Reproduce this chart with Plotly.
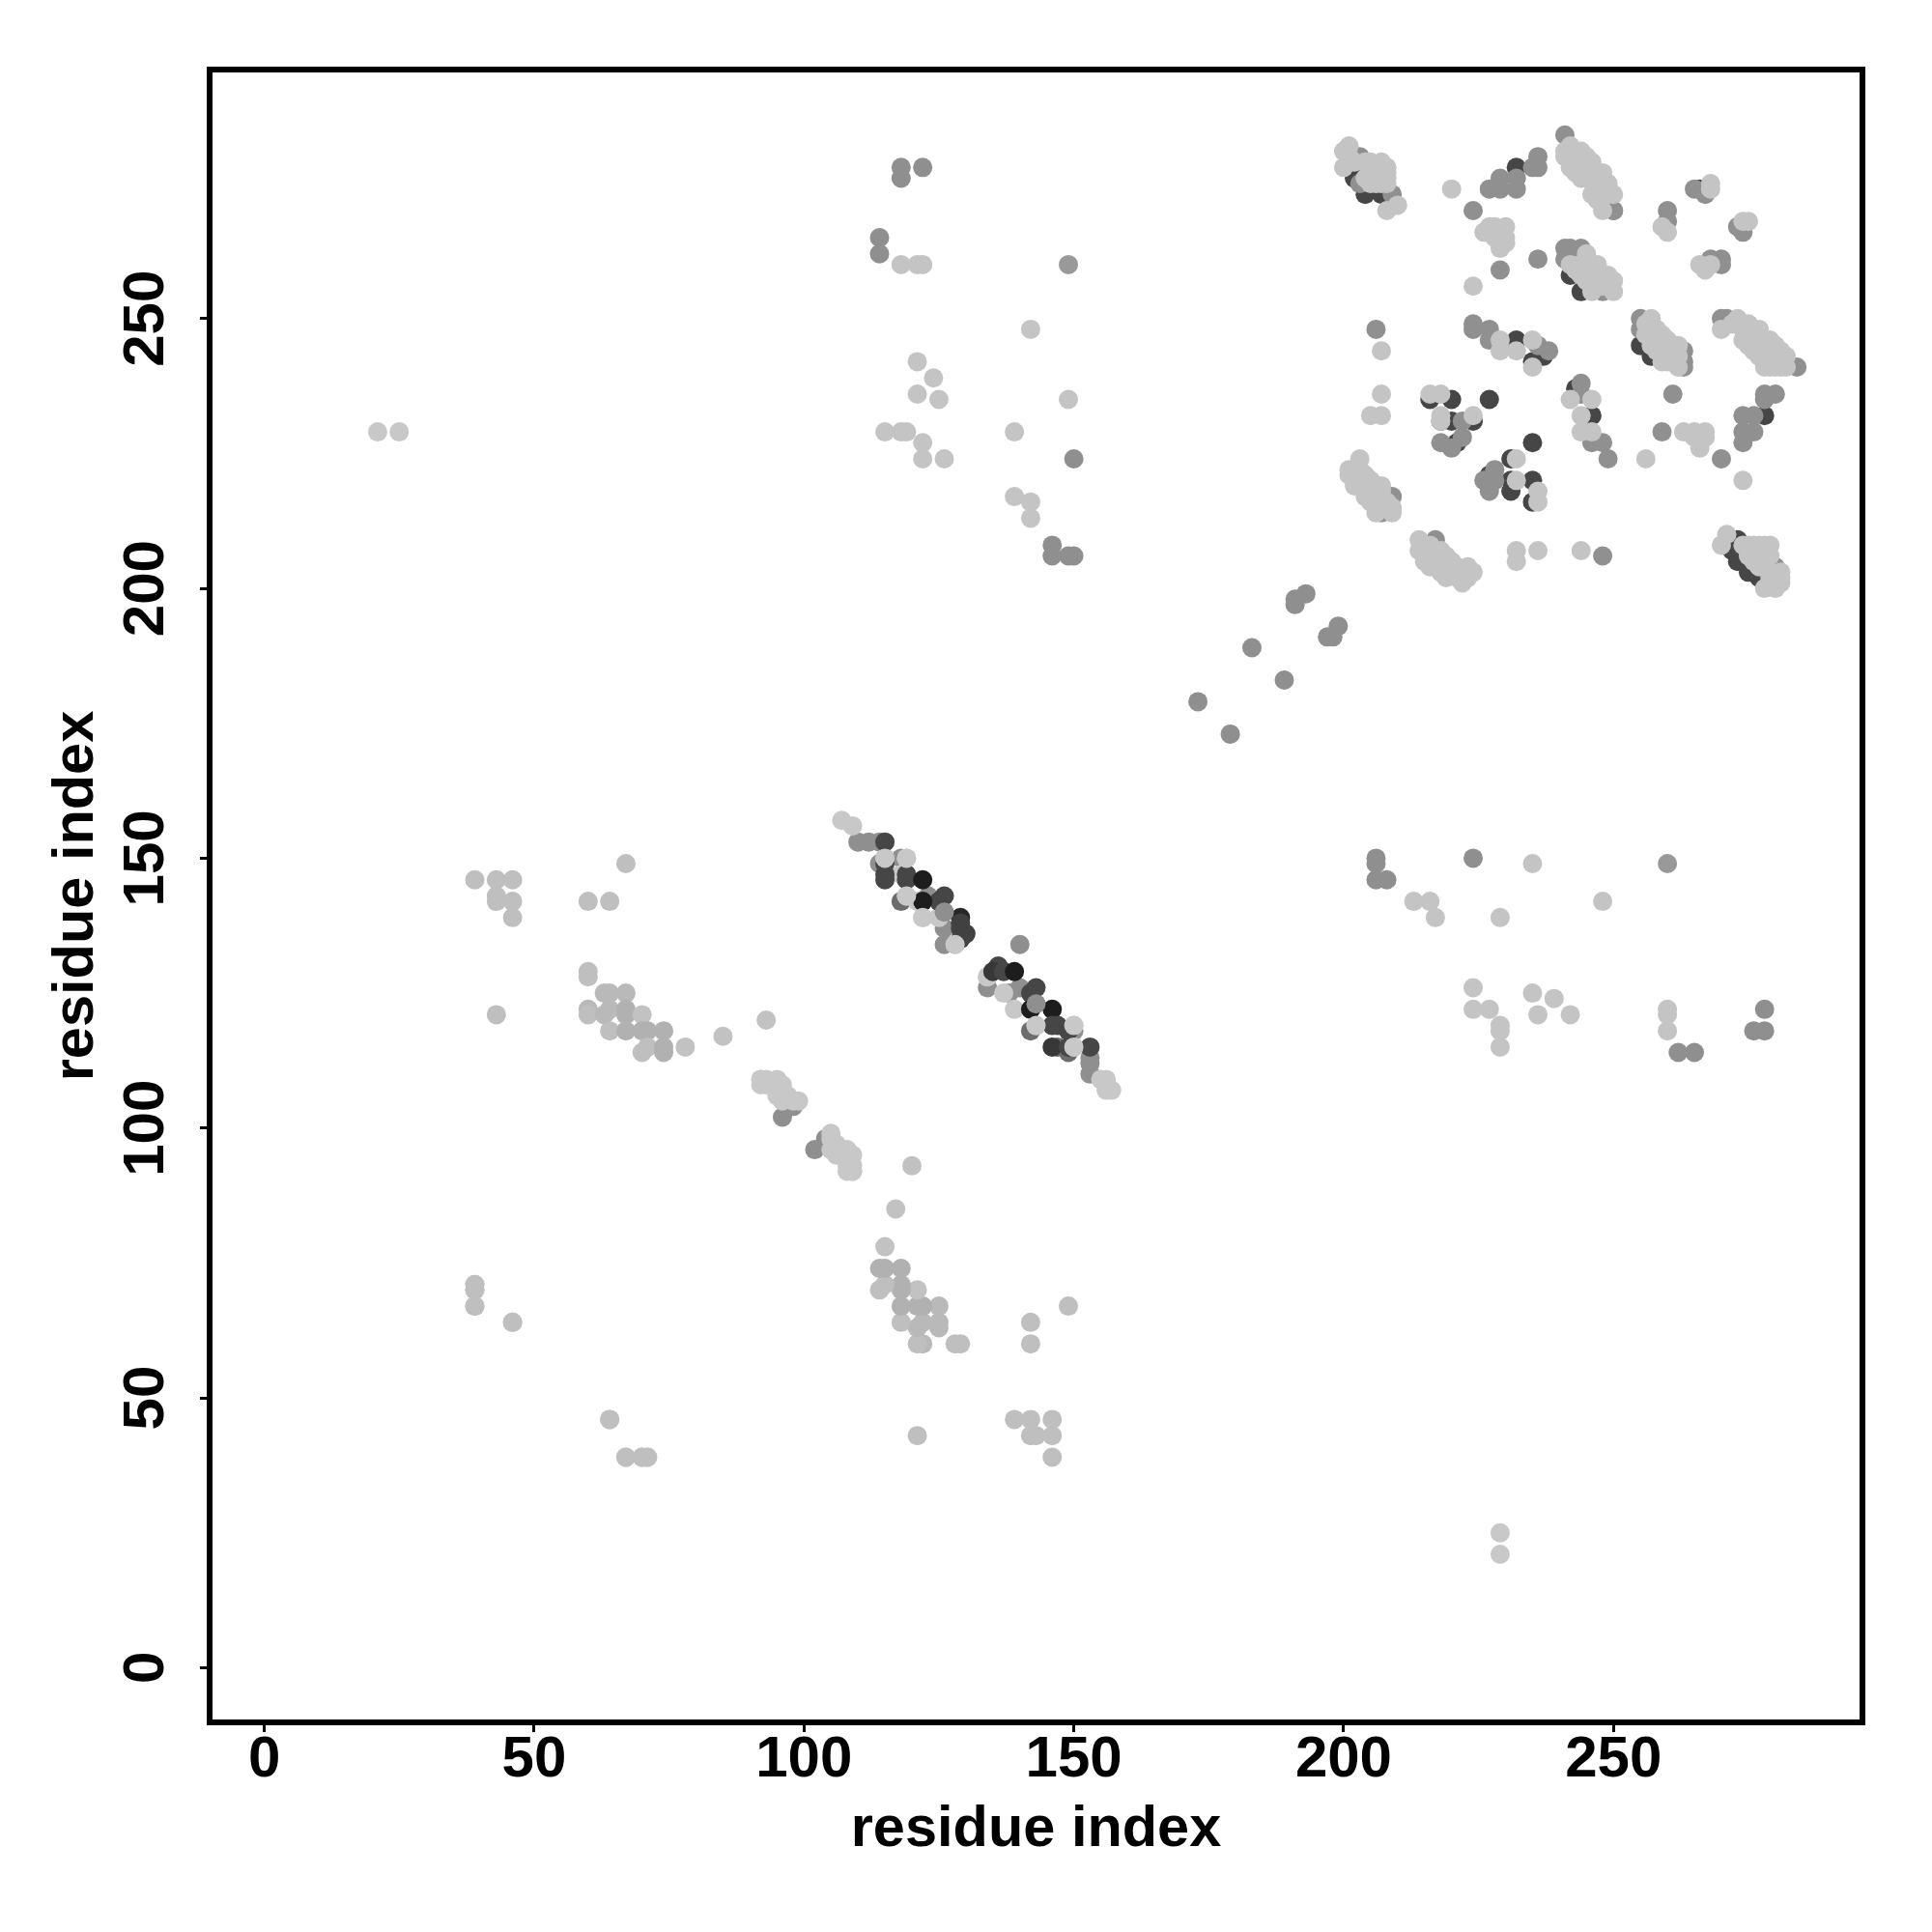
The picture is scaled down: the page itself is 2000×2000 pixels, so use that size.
import plotly.graph_objects as go

# Off-diagonal contacts: each (i, j) is also drawn as (j, i)
pale_i = [21,25,39,43,46,43,46,43,46,60,64,67,43,64,67,70,71,39,39,39,46,
          60,60,63,64,67,60,60,63,64,67,67,70,64,67,70,71,74,70,71,74,74,78,85,93]
pale_j = [229,229,146,146,146,142,142,143,139,142,142,149,121,46,39,39,39,71,70,67,64,
          129,128,125,125,125,122,121,121,122,122,121,121,118,118,118,118,118,114,115,115,114,115,117,120]
pale_score = [0.0,0.0,0.05,0.05,0.05,0.05,0.05,0.05,0.05,0.05,0.05,0.05,0.05,0.05,0.05,0.05,0.05,0.05,0.05,0.05,0.05,
              0.05,0.05,0.08,0.08,0.08,0.08,0.05,0.08,0.08,0.12,0.12,0.03,0.05,0.12,0.12,0.12,0.12,0.05,0.05,0.12,0.12,0.03,0.03,0.03]
cross_i = [96,97,98,118,118,122,114,114,149,150,146,146,149,150,92,92,93,93,95,96,95,97,96,98,99,95,92]
cross_j = [102,104,104,278,276,278,265,262,260,224,208,206,206,206,109,108,109,108,109,108,107,106,105,105,105,106,109]
cross_score = [.3,.3,.3,.3,.3,.3,.3,.3,.25,.3,.3,.3,.3,.3,0,0,0,0,0,0,0,0,0,0,0,0,0]
soft_i = [118,121,122,142,121,124,121,125,149,115,118,119,139,122,122,126,139,142,142]
soft_j = [260,260,260,248,242,239,236,235,235,229,229,229,229,227,224,224,217,216,213]

# Anti-diagonal band around residue 130, in drawing order
band_x = [110,112,114,114,118,118,123,126,126,126,134,140,134,138,140,143,142,150,149,147,153,153,153,
          107,109,115,119,118,119,121,122,125,128,134,137,139,143,150,150,155,156,156,157,
          115,115,115,115,119,119,125,126,122,122,129,129,129,130,129,136,135,137,139,142,143,142,146,146,147,149,146,149,153,
          115,119,119,122,128,143,150,150,143,126]
band_y = [153,153,153,149,150,142,143,140,137,134,126,134,128,125,126,123,118,118,114,115,113,112,110,
          157,156,150,150,147,143,142,139,139,134,128,125,122,119,119,115,109,109,107,107,
          153,149,147,146,147,146,142,143,146,142,139,138,137,136,135,130,129,129,129,125,126,122,122,119,119,118,115,115,115,
          150,150,143,139,134,119,119,115,123,140]
band_score = [.3,.3,.3,.3,.3,.5,.3,.3,.3,.3,.3,.3,0,.3,.3,.3,.5,.3,.5,.5,.3,.3,.3,
              0,0,0,0,0,0,0,0,0,0,0,0,0,0,0,0,0,0,0,0,
              .72,.72,.72,.72,.72,.72,.72,.72,.95,.95,.9,.75,.75,.75,.75,.72,.8,.72,.95,.72,.72,.95,.95,.72,.72,.72,.8,.72,.72,
              0,0,0,0,0,0,0,0,.3,.3]

# Residues 173-199
strand_x = [173,179,183,189,191,191,193,197,198,199]
strand_y = [179,173,189,183,198,197,199,191,191,193]

# Upper-right domain, by intensity
dark_x = [206,201,202,204,207,216,220,218,220,224,221,227,235,231,227,231,231,235,235,232,237,235,243,243,246,
          278,255,257,273,272,273,275,277,279,232,242,244,266,274]
dark_y = [278,278,276,273,273,235,235,231,231,231,227,235,227,224,221,220,218,220,216,246,243,242,237,236,232,
          232,245,243,209,207,205,203,202,201,278,258,255,274,267]
mid_x = [206,224,224,227,227,236,238,244,244,248,249,248,222,218,220,222,228,226,227,228,246,
         259,261,270,278,280,278,274,276,274,276,274,255,255,263,263,263,270,271,284,280,
         203,203,209,224,227,229,229,232,232,235,236,236,241,250,250,229,236,241,242,244,241,248,
         260,260,265,267,273,274,268,270,270,207,209,217]
mid_y = [248,249,248,248,246,245,244,238,236,227,224,206,231,227,226,228,222,220,218,220,227,
         229,236,224,236,236,235,232,232,229,229,227,250,248,244,242,241,250,250,241,204,
         280,275,273,270,274,276,274,276,274,278,280,278,284,270,270,259,261,263,263,263,261,255,
         270,268,274,273,267,266,261,261,260,214,217,209]
light_x = [207,207,205,207,216,218,218,218,224,242,246,244,244,246,229,229,232,235,235,232,232,236,236,
           256,263,265,267,266,265,267,274,220,203,201,201,202,203,205,207,204,206,209,207,206,206,209,
           214,214,216,218,216,220,219,222,224,222,221,218,215,232,232,236,244,271,270,275,279,277,276,278,278,281,281,280,
           257,257,259,261,259,262,270,273,275,277,279,281,282,274,276,278,280,276,279,
           200,201,200,205,208,208,204,206,206,208,208,210,242,241,241,244,246,248,249,250,248,242,244,247,243,245,
           226,228,230,228,230,229,230,227,224,245,247,248,250,243,245,247,250,246,242,259,260,268,268,274,275,266,267,268,
           242,243,244,245,246,245,246,247,248,248,249,247,246,244,243,
           244,246,247,249,249,246,248,244,
           256,256,257,258,258,259,260,260,261,262,258,260,262,
           272,274,275,276,277,278,279,280,281,278,280,282,275,277,279,281,
           202,202,204,203,205,206,207,208,208,205,204,
           215,215,217,217,219,219,220,221,223,223,218,216,
           276,278,275,277,279,277,279,276,274,281,279,
           201,202,204,205,206,207,205,207,208,207]
light_y = [244,236,232,232,236,236,232,231,232,235,235,232,229,229,246,244,244,246,241,224,220,218,216,
           224,229,229,229,226,228,228,220,274,224,222,221,219,222,220,219,217,214,215,218,219,216,214,
           209,207,208,207,204,205,202,201,203,202,204,205,206,207,205,207,207,210,208,208,208,208,205,204,200,201,202,200,
           250,247,245,244,242,241,248,250,249,248,246,244,241,246,244,241,241,245,243,
           281,282,278,279,278,276,276,278,275,275,270,271,282,281,280,281,279,277,275,273,270,278,276,274,279,277,
           266,267,267,265,265,263,264,267,256,262,260,258,257,259,257,256,255,255,260,267,266,275,274,268,268,260,259,260,
           280,281,279,280,278,276,276,276,275,273,273,272,273,278,277,
           260,259,258,256,258,257,256,258,
           249,247,245,246,248,247,246,244,242,243,244,242,245,
           249,248,247,247,246,245,244,243,242,243,245,243,245,243,241,241,
           222,220,221,220,218,217,216,216,215,216,219,
           208,205,206,204,204,206,203,202,202,204,203,206,
           207,208,206,206,206,204,203,208,208,203,202,
           280,279,279,277,276,277,275,275,277,279]

tick_values = [0, 50, 100, 150, 200, 250]
axis_title = "residue index"
pale_scale = [[0, "#c8c8c8"], [0.3, "#8f8f8f"], [0.72, "#464646"], [1, "#141414"]]
FONT = "Liberation Sans"
DOT = 20


def scored(x, y, score):
    return go.Scatter(x=x, y=y, mode="markers", hoverinfo="skip",
                      marker=dict(size=DOT, color=score, cmin=0, cmax=1,
                                  colorscale=pale_scale, line=dict(width=0)))


def flat(x, y, colour):
    return go.Scatter(x=x, y=y, mode="markers", hoverinfo="skip",
                      marker=dict(size=DOT, color=colour, line=dict(width=0)))


fig = go.Figure()
fig.add_trace(scored(pale_i + pale_j, pale_j + pale_i, pale_score + pale_score))
fig.add_trace(scored(cross_i + cross_j, cross_j + cross_i, cross_score + cross_score))
fig.add_trace(flat(soft_i + soft_j, soft_j + soft_i, "#c4c4c4"))
fig.add_trace(scored(band_x, band_y, band_score))
fig.add_trace(flat(strand_x, strand_y, "#8f8f8f"))
fig.add_trace(flat(dark_x, dark_y, "#464646"))
fig.add_trace(flat(mid_x, mid_y, "#909090"))
fig.add_trace(flat(light_x, light_y, "#c4c4c4"))

axis = dict(range=[-9.6, 295.6], tickvals=tick_values, showgrid=False, zeroline=False,
            showline=True, mirror=True, linecolor="black", linewidth=6,
            ticks="outside", ticklen=7, tickwidth=3, tickcolor="black",
            tickfont=dict(family=FONT, size=60, color="black", weight="bold"))
title_font = dict(family=FONT, size=59.5, color="black", weight="bold")
fig.update_layout(
    width=2000, height=2000, autosize=False, showlegend=False,
    paper_bgcolor="white", plot_bgcolor="white",
    margin=dict(l=212, r=83, t=67, b=228),
    font=dict(family=FONT, color="black"),
    xaxis=dict(axis, ticklabelstandoff=-26,
               title=dict(text=axis_title, standoff=20, font=title_font)),
    yaxis=dict(axis, tickangle=-90, ticklabelstandoff=14, ticklabelshift=9,
               title=dict(text=axis_title, standoff=1, font=title_font)),
)
fig.write_html("out.html")
